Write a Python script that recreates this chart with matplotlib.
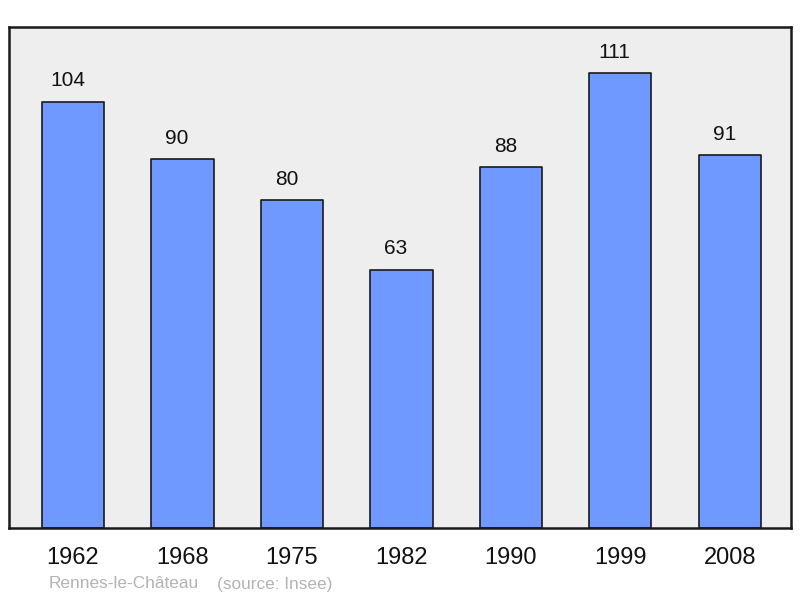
import matplotlib
matplotlib.use("Agg")
import matplotlib.pyplot as plt

years = ["1962", "1968", "1975", "1982", "1990", "1999", "2008"]
population = [104, 90, 80, 63, 88, 111, 91]
place = "Rennes-le-Château"
source = "(source: Insee)"

plt.rcParams['font.family'] = ['Liberation Sans', 'DejaVu Sans']

fig = plt.figure(figsize=(8, 5.98), dpi=100)
ax = fig.add_axes([9 / 800, 70 / 598, 782 / 800, 501 / 598])
ax.set_facecolor('#eeeeee')

x = list(range(len(years)))
bars = ax.bar(x, population, width=0.57, color='#7099ff', edgecolor='#1a1a1a',
              linewidth=1.2, joinstyle='round', zorder=2)

# value labels sit a little left of the bar centre, as in the original
for xi, v in zip(x, population):
    ax.annotate(str(v), (xi, v), xytext=(-4, 15), textcoords='offset points',
                ha='center', va='center', fontsize=15, color='#111111')

ax.set_xlim(-0.585, 6.56)
ax.set_ylim(0, 122.2)
ax.set_xticks(x)
ax.set_xticklabels(years, fontsize=17, color='#111111')
ax.tick_params(axis='x', length=0, pad=14)
ax.set_yticks([])
for s in ax.spines.values():
    s.set_linewidth(1.8)
    s.set_color('#1a1a1a')

fig.text(49 / 800, 1 - 584 / 598, place, fontsize=12.4, color='#b3b3b3',
         ha='left', va='center')
fig.text(217 / 800, 1 - 584 / 598, source, fontsize=12.4, color='#b3b3b3',
         ha='left', va='center')

fig.savefig("out.png", dpi=100)
